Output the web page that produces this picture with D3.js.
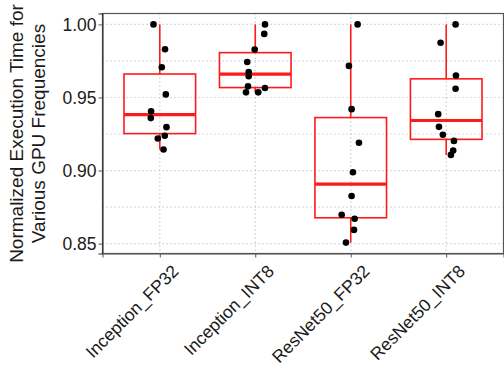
<!DOCTYPE html>
<html>
<head>
<meta charset="utf-8">
<script src="https://cdn.jsdelivr.net/npm/d3@7"></script>
<style>
  body { margin: 0; background: #fff; }
  text { font-family: "Liberation Sans", Arial, sans-serif; }
</style>
</head>
<body>
<svg id="chart" width="504" height="369"></svg>
<script>
// categories on the x axis
var categories = ["Inception_FP32", "Inception_INT8", "ResNet50_FP32", "ResNet50_INT8"];

// normalized execution time for each GPU frequency
var inceptionFP32 = [1.000, 0.9830, 0.9707, 0.9521, 0.9405, 0.9359, 0.9297, 0.9238, 0.9219, 0.9144];
var inceptionINT8 = [1.000, 0.9935, 0.9828, 0.9743, 0.9674, 0.9645, 0.9576, 0.9565, 0.9535, 0.9535];
var resnetFP32 = [1.000, 0.9716, 0.9420, 0.9190, 0.8988, 0.8826, 0.8697, 0.8670, 0.8594, 0.8507];
var resnetINT8 = [1.000, 0.9874, 0.9650, 0.9560, 0.9386, 0.9299, 0.9245, 0.9203, 0.9137, 0.9107];

// horizontal jitter of each point, as a fraction of the category step
var jitterFP32 = [-0.066, 0.055, 0.021, 0.063, -0.091, -0.094, 0.070, 0.052, -0.021, 0.039];
var jitterINT8 = [0.102, 0.094, -0.006, -0.084, -0.069, -0.069, -0.076, 0.102, -0.097, 0.031];
var jitterResFP32 = [0.072, -0.019, 0.009, 0.086, 0.023, 0.009, -0.095, 0.041, 0.034, -0.050];
var jitterResINT8 = [0.098, -0.059, 0.102, 0.098, -0.084, -0.076, -0.035, 0.081, 0.073, 0.049];

var yTicks = [0.85, 0.90, 0.95, 1.00];
var yMinor = [0.875, 0.925, 0.975];
var titleLines = ["Normalized Execution Time for", "Various GPU Frequencies"];

var seriesValues = [inceptionFP32, inceptionINT8, resnetFP32, resnetINT8];
var seriesJitter = [jitterFP32, jitterINT8, jitterResFP32, jitterResINT8];

var svg = d3.select("#chart");
var panel = { left: 102.5, right: 503.5, top: 13.5, bottom: 253.5 };

var x = d3.scalePoint()
  .domain(categories)
  .range([panel.left, panel.right])
  .padding(0.6);

// ggplot style 5% expansion of the data range
var all = d3.merge(seriesValues);
var ext = d3.extent(all);
var pad = (ext[1] - ext[0]) * 0.05;
var y = d3.scaleLinear()
  .domain([ext[0] - pad, ext[1] + pad])
  .range([panel.bottom, panel.top]);

var step = x.step();
var boxW = step * 0.75;

// grid (dotted)
var grid = svg.append("g").attr("class", "grid");
grid.selectAll("line.h")
  .data(yTicks.concat(yMinor))
  .enter().append("line")
  .attr("class", "h")
  .attr("x1", panel.left).attr("x2", panel.right)
  .attr("y1", d => y(d)).attr("y2", d => y(d))
  .style("stroke", "#c4c4c4")
  .style("stroke-width", 1.2)
  .style("stroke-dasharray", "1.2,2.8");
grid.selectAll("line.v")
  .data(categories)
  .enter().append("line")
  .attr("class", "v")
  .attr("x1", d => x(d)).attr("x2", d => x(d))
  .attr("y1", panel.top).attr("y2", panel.bottom)
  .style("stroke", "#c4c4c4")
  .style("stroke-width", 1.2)
  .style("stroke-dasharray", "1.2,2.8");

// box stats per category
var stats = categories.map(function (c, i) {
  var v = seriesValues[i].slice().sort(d3.ascending);
  var q1 = d3.quantile(v, 0.25), med = d3.quantile(v, 0.5), q3 = d3.quantile(v, 0.75);
  var iqr = q3 - q1;
  var lo = d3.min(v.filter(d => d >= q1 - 1.5 * iqr));
  var hi = d3.max(v.filter(d => d <= q3 + 1.5 * iqr));
  return { cat: c, q1: q1, med: med, q3: q3, lo: lo, hi: hi };
});

var boxes = svg.append("g").selectAll("g")
  .data(stats)
  .enter().append("g");

boxes.append("line")
  .attr("x1", d => x(d.cat)).attr("x2", d => x(d.cat))
  .attr("y1", d => y(d.hi)).attr("y2", d => y(d.q3))
  .style("stroke", "#ff1a1a").style("stroke-width", 1.6);
boxes.append("line")
  .attr("x1", d => x(d.cat)).attr("x2", d => x(d.cat))
  .attr("y1", d => y(d.q1)).attr("y2", d => y(d.lo))
  .style("stroke", "#ff1a1a").style("stroke-width", 1.6);
boxes.append("rect")
  .attr("x", d => x(d.cat) - boxW / 2)
  .attr("width", boxW)
  .attr("y", d => y(d.q3))
  .attr("height", d => y(d.q1) - y(d.q3))
  .style("fill", "none")
  .style("stroke", "#ff1a1a").style("stroke-width", 1.6);
boxes.append("line")
  .attr("x1", d => x(d.cat) - boxW / 2).attr("x2", d => x(d.cat) + boxW / 2)
  .attr("y1", d => y(d.med)).attr("y2", d => y(d.med))
  .style("stroke", "#ff1a1a").style("stroke-width", 3.2);

// jittered points
var pts = [];
categories.forEach(function (c, i) {
  seriesValues[i].forEach(function (v, j) {
    pts.push({ cat: c, value: v, jit: seriesJitter[i][j] });
  });
});
svg.append("g").selectAll("circle")
  .data(pts)
  .enter().append("circle")
  .attr("cx", d => x(d.cat) + d.jit * step)
  .attr("cy", d => y(d.value))
  .attr("r", 3.3)
  .style("fill", "#000");

// panel border
svg.append("rect")
  .attr("x", panel.left).attr("y", panel.top)
  .attr("width", panel.right - panel.left)
  .attr("height", panel.bottom - panel.top)
  .style("fill", "none")
  .style("stroke", "#555").style("stroke-width", 1.2);

// axes
var yAxis = svg.append("g")
  .attr("transform", "translate(" + panel.left + ",0)")
  .call(d3.axisLeft(y).tickValues(yTicks).tickFormat(d3.format(".2f")).tickSize(4).tickPadding(2));
yAxis.select(".domain").style("stroke", "#222");
yAxis.selectAll(".tick line").style("stroke", "#555");
yAxis.selectAll("text").style("font-size", "17.5px").style("fill", "#1a1a1a");

var xAxis = svg.append("g")
  .attr("transform", "translate(0," + panel.bottom + ")")
  .call(d3.axisBottom(x).tickSize(4).tickFormat(""));
xAxis.select(".domain").style("stroke", "#555");
xAxis.selectAll(".tick line").style("stroke", "#555");

// rotated category labels, top-right corner hung under each tick
svg.append("g").selectAll("text")
  .data(categories)
  .enter().append("text")
  .attr("transform", d => "translate(" + (x(d) + 11) + "," + (panel.bottom + 10) + ") rotate(-45)")
  .attr("dy", "0.72em")
  .style("text-anchor", "end")
  .style("font-size", "17.5px").style("fill", "#1a1a1a")
  .text(d => d);

// y title, two lines
var cy = (panel.top + panel.bottom) / 2;
svg.append("text")
  .attr("transform", "translate(23," + cy + ") rotate(-90)")
  .style("text-anchor", "middle")
  .style("font-size", "19px").style("fill", "#1a1a1a")
  .selectAll("tspan")
  .data(titleLines)
  .enter().append("tspan")
  .attr("x", 0)
  .attr("dy", (d, i) => i === 0 ? 0 : "1.15em")
  .text(d => d);
</script>
</body>
</html>
